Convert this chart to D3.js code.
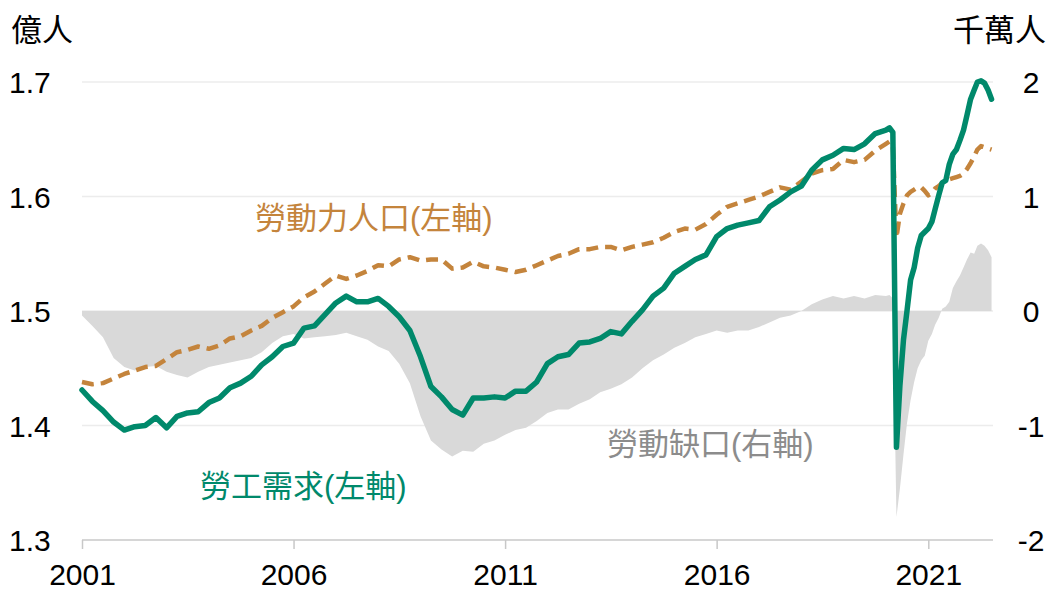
<!DOCTYPE html>
<html lang="zh-Hant">
  <head>
    <meta charset="utf-8">
    <script src="https://cdn.jsdelivr.net/npm/d3@7/dist/d3.min.js"></script>
    <style>
      html, body { margin: 0; padding: 0; background: #fff; }
      svg { display: block; }
      text { font-family: "Liberation Sans", Arial, "Noto Sans CJK TC", sans-serif; }
    </style>
  </head>
  <body>
    <svg id="chart" width="1053" height="591"></svg>
    <script>

      // quarterly 2001-2019, then monthly from 2020
      var dates = [
        "2001-01","2001-04","2001-07","2001-10", "2002-01","2002-04","2002-07","2002-10",
        "2003-01","2003-04","2003-07","2003-10", "2004-01","2004-04","2004-07","2004-10",
        "2005-01","2005-04","2005-07","2005-10", "2006-01","2006-04","2006-07","2006-10",
        "2007-01","2007-04","2007-07","2007-10", "2008-01","2008-04","2008-07","2008-10",
        "2009-01","2009-04","2009-07","2009-10", "2010-01","2010-04","2010-07","2010-10",
        "2011-01","2011-04","2011-07","2011-10", "2012-01","2012-04","2012-07","2012-10",
        "2013-01","2013-04","2013-07","2013-10", "2014-01","2014-04","2014-07","2014-10",
        "2015-01","2015-04","2015-07","2015-10", "2016-01","2016-04","2016-07","2016-10",
        "2017-01","2017-04","2017-07","2017-10", "2018-01","2018-04","2018-07","2018-10",
        "2019-01","2019-04","2019-07","2019-10",
        "2020-01","2020-02","2020-03","2020-04","2020-05","2020-06",
        "2020-07","2020-08","2020-09","2020-10","2020-11","2020-12",
        "2021-01","2021-02","2021-03","2021-04","2021-05","2021-06",
        "2021-07","2021-08","2021-09","2021-10","2021-11","2021-12",
        "2022-01","2022-02","2022-03","2022-04","2022-05","2022-06","2022-07"
      ];

      // 勞工需求, 億人 (left axis)
      var demand = [
        1.431,1.421,1.413,1.403, 1.396,1.399,1.400,1.407,
        1.398,1.408,1.411,1.412, 1.420,1.424,1.433,1.437,
        1.443,1.453,1.460,1.469, 1.472,1.485,1.487,1.497,
        1.507,1.513,1.508,1.508, 1.511,1.504,1.495,1.483,
        1.460,1.434,1.425,1.414, 1.409,1.424,1.424,1.425,
        1.424,1.430,1.430,1.438, 1.454,1.460,1.462,1.472,
        1.473,1.476,1.482,1.480, 1.491,1.501,1.513,1.520,
        1.533,1.539,1.545,1.549, 1.565,1.572,1.575,1.577,
        1.579,1.591,1.597,1.604, 1.609,1.623,1.632,1.636,
        1.642,1.641,1.646,1.655,
        1.658,1.660,1.656,1.381,1.435,1.475,
        1.500,1.527,1.538,1.555,1.566,1.569,
        1.572,1.578,1.589,1.601,1.612,1.614,
        1.628,1.637,1.641,1.649,1.658,1.671,
        1.685,1.693,1.700,1.701,1.699,1.693,1.685
      ];

      // 勞動力人口, 億人 (left axis)
      var laborForce = [
        1.438,1.436,1.437,1.441, 1.445,1.448,1.451,1.452,
        1.458,1.464,1.466,1.469, 1.467,1.470,1.476,1.478,
        1.483,1.487,1.494,1.499, 1.504,1.512,1.517,1.524,
        1.531,1.528,1.531,1.535, 1.540,1.539,1.545,1.547,
        1.544,1.545,1.545,1.537, 1.538,1.543,1.539,1.538,
        1.536,1.534,1.536,1.540, 1.544,1.548,1.550,1.554,
        1.554,1.556,1.556,1.553, 1.556,1.558,1.560,1.564,
        1.569,1.572,1.571,1.576, 1.584,1.591,1.594,1.597,
        1.600,1.604,1.608,1.606, 1.613,1.620,1.623,1.624,
        1.632,1.630,1.632,1.640,
        1.646,1.648,1.644,1.564,1.585,1.594,
        1.601,1.604,1.606,1.608,1.608,1.605,
        1.601,1.603,1.607,1.609,1.612,1.614,
        1.615,1.616,1.617,1.618,1.620,1.624,
        1.629,1.635,1.641,1.644,1.643,1.642,1.641
      ];

      // 勞動缺口, 千萬人 (right axis)
      var gap = [
        -0.04,-0.13,-0.23,-0.41, -0.49,-0.52,-0.49,-0.48,
        -0.53,-0.56,-0.58,-0.53, -0.49,-0.47,-0.45,-0.43,
        -0.41,-0.36,-0.28,-0.22, -0.20,-0.24,-0.23,-0.22,
        -0.21,-0.19,-0.22,-0.25, -0.31,-0.35,-0.46,-0.63,
        -0.92,-1.13,-1.21,-1.27, -1.22,-1.23,-1.16,-1.13,
        -1.08,-1.04,-1.02,-0.96, -0.89,-0.86,-0.86,-0.81,
        -0.77,-0.71,-0.68,-0.64, -0.58,-0.50,-0.43,-0.38,
        -0.32,-0.28,-0.23,-0.20, -0.17,-0.19,-0.17,-0.17,
        -0.14,-0.10,-0.06,-0.04, 0.00,0.06,0.10,0.13,
        0.11,0.13,0.11,0.14,
        0.13,0.14,0.11,-1.80,-1.55,-1.25,
        -0.98,-0.78,-0.62,-0.50,-0.43,-0.39,
        -0.26,-0.20,-0.12,-0.06,0.02,0.04,
        0.08,0.20,0.26,0.31,0.38,0.45,
        0.51,0.50,0.57,0.59,0.57,0.53,0.47
      ];

      var leftTicks = [1.3, 1.4, 1.5, 1.6, 1.7],
          rightTicks = [-2, -1, 0, 1, 2],
          yearTicks = ["2001", "2006", "2011", "2016", "2021"];

      var green = "#00896b",
          orange = "#c4843c",
          grey = "#d9d9d9";

      var parse = d3.timeParse("%Y-%m"),
          parseYear = d3.timeParse("%Y");

      var data = dates.map(function(d, i) {
        return {date: parse(d), demand: demand[i], labor: laborForce[i], gap: gap[i]};
      });

      var svg = d3.select("#chart");

      var x = d3.scaleTime()
        .domain([parseYear("2001"), parseYear("2021")])
        .range([82, 928.3]);

      var yL = d3.scaleLinear().domain([1.3, 1.7]).range([540, 82]),
          yR = d3.scaleLinear().domain([-2, 2]).range([540, 82]);

      var plotRight = 993;

      // gridlines
      svg.append("g")
        .selectAll("line")
        .data(leftTicks.slice(1))
        .enter().append("line")
          .attr("x1", 82)
          .attr("x2", plotRight)
          .attr("y1", function(d) { return yL(d); })
          .attr("y2", function(d) { return yL(d); })
          .attr("stroke", "#ececec")
          .attr("stroke-width", 1.5);

      // gap area
      svg.append("path")
        .datum(data)
        .attr("fill", grey)
        .attr("d", d3.area()
          .x(function(d) { return x(d.date); })
          .y0(yR(0))
          .y1(function(d) { return yR(d.gap); }));

      // bottom axis
      var xAxis = svg.append("g")
        .attr("transform", "translate(0,540)")
        .call(d3.axisBottom(x)
          .tickValues(yearTicks.map(parseYear))
          .tickSize(9)
          .tickFormat(d3.timeFormat("%Y")));
      xAxis.select(".domain").remove();
      xAxis.selectAll(".tick line").attr("stroke", "#c8c8c8").attr("stroke-width", 1.5);
      xAxis.selectAll(".tick text")
        .attr("y", 44.5)
        .attr("dy", 0)
        .attr("fill", "#000")
        .attr("font-size", 30)
        .attr("font-family", "'Liberation Sans', Arial, sans-serif");
      svg.append("line")
        .attr("x1", 82).attr("x2", plotRight)
        .attr("y1", 540).attr("y2", 540)
        .attr("stroke", "#c8c8c8")
        .attr("stroke-width", 1.5);

      // labor force (dashed)
      svg.append("path")
        .datum(data)
        .attr("fill", "none")
        .attr("stroke", orange)
        .attr("stroke-width", 4.5)
        .attr("stroke-dasharray", "12,7")
        .attr("stroke-linejoin", "round")
        .attr("d", d3.line()
          .x(function(d) { return x(d.date); })
          .y(function(d) { return yL(d.labor); }));

      // demand
      svg.append("path")
        .datum(data)
        .attr("fill", "none")
        .attr("stroke", green)
        .attr("stroke-width", 5.5)
        .attr("stroke-linejoin", "round")
        .attr("stroke-linecap", "round")
        .attr("d", d3.line()
          .x(function(d) { return x(d.date); })
          .y(function(d) { return yL(d.demand); }));

      // left tick labels
      svg.append("g")
        .selectAll("text")
        .data(leftTicks)
        .enter().append("text")
          .attr("x", 9)
          .attr("y", function(d) { return yL(d) + 11; })
          .attr("font-size", 30)
          .text(function(d) { return d3.format(".1f")(d); });

      // right tick labels
      svg.append("g")
        .selectAll("text")
        .data(rightTicks)
        .enter().append("text")
          .attr("x", 1031)
          .attr("y", function(d) { return yR(d) + 11; })
          .attr("text-anchor", "middle")
          .attr("font-size", 30)
          .text(function(d) { return d; });

      // unit labels
      svg.append("text")
        .attr("x", 11).attr("y", 41)
        .attr("font-size", 31)
        .text("億人");
      svg.append("text")
        .attr("x", 1046).attr("y", 41)
        .attr("text-anchor", "end")
        .attr("font-size", 31)
        .text("千萬人");

      // series labels
      svg.append("text")
        .attr("x", 255).attr("y", 229)
        .attr("font-size", 31)
        .attr("fill", orange)
        .text("勞動力人口(左軸)");
      svg.append("text")
        .attr("x", 200).attr("y", 497)
        .attr("font-size", 31)
        .attr("fill", green)
        .text("勞工需求(左軸)");
      svg.append("text")
        .attr("x", 607).attr("y", 455)
        .attr("font-size", 31)
        .attr("fill", "#8c8c8c")
        .text("勞動缺口(右軸)");

    </script>
  </body>
</html>
